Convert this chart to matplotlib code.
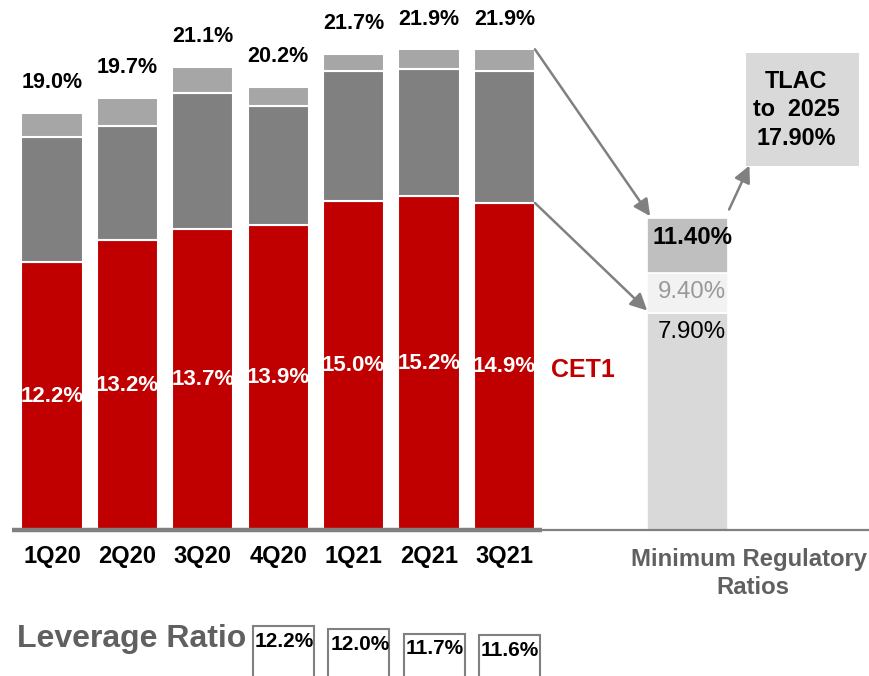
"""Capital ratios by quarter vs. minimum regulatory ratios (stacked bars)."""

import matplotlib

matplotlib.use("Agg")
import matplotlib.pyplot as plt
from matplotlib.patches import Rectangle

plt.rcParams["font.family"] = ["Liberation Sans", "DejaVu Sans"]

# --- data ---------------------------------------------------------------------
quarters = ["1Q20", "2Q20", "3Q20", "4Q20", "1Q21", "2Q21", "3Q21"]
cet1 = [12.2, 13.2, 13.7, 13.9, 15.0, 15.2, 14.9]
tier1 = [17.9, 18.4, 19.9, 19.3, 20.9, 21.0, 20.9]
total_capital = [19.0, 19.7, 21.1, 20.2, 21.7, 21.9, 21.9]

leverage_quarters = ["4Q20", "1Q21", "2Q21", "3Q21"]
leverage = [12.2, 12.0, 11.7, 11.6]

# minimum regulatory bar: labels, and segment heights as drawn (not to scale)
reg_labels = ["7.90%", "9.40%", "11.40%"]
reg_drawn = [9.9, 1.8, 2.5]
tlac_text = "TLAC\nto  2025\n17.90%"

RED = "#c00000"
DARK = "#808080"
LIGHT = "#a6a6a6"
TEXT_GRAY = "#606060"

PX_X = 75.4   # pixels per bar slot
PX_Y = 21.95  # pixels per percentage point

fig = plt.figure(figsize=(8.7, 6.76), dpi=100)
ax = fig.add_axes([0, 0, 1, 1])
ax.set_xlim(-52 / PX_X, (870 - 52) / PX_X)
ax.set_ylim(-(676 - 530) / PX_Y, 530 / PX_Y)
ax.axis("off")

x = list(range(len(quarters)))
w = 0.81
t1_part = [t - c for t, c in zip(tier1, cet1)]
t2_part = [tc - t for tc, t in zip(total_capital, tier1)]
ax.bar(x, cet1, w, color=RED, edgecolor="white", lw=1.5)
ax.bar(x, t1_part, w, bottom=cet1, color=DARK, edgecolor="white", lw=1.5)
ax.bar(x, t2_part, w, bottom=tier1, color=LIGHT, edgecolor="white", lw=1.5)

for i in x:
    ax.text(i, total_capital[i] + 30 / PX_Y, f"{total_capital[i]:.1f}%",
            ha="center", va="center", fontsize=15.5, fontweight="bold")
    ax.text(i, cet1[i] / 2, f"{cet1[i]:.1f}%", ha="center", va="center",
            fontsize=16, fontweight="bold", color="white")
    ax.text(i, -27 / PX_Y, quarters[i], ha="center", va="center",
            fontsize=17, fontweight="bold")

ax.text(6.62, 160 / PX_Y, "CET1", ha="left", va="center",
        fontsize=18, fontweight="bold", color=RED)

# baseline
ax.plot([-0.53, 6.5], [0, 0], color=DARK, lw=3.2, solid_capstyle="butt", zorder=3)
ax.plot([6.5, 10.85], [0, 0], color=DARK, lw=1.6, zorder=3)

# minimum regulatory ratios bar
rx, rw = 8.43, 1.074
reg_colors = ["#d9d9d9", "#f2f2f2", "#bfbfbf"]
reg_text_colors = ["black", "#999999", "black"]
reg_weights = ["normal", "normal", "bold"]
bottom = 0
tops = []
for h, col, lab, tc, fw in zip(reg_drawn, reg_colors, reg_labels,
                               reg_text_colors, reg_weights):
    ax.bar(rx, h, rw, bottom=bottom, color=col, edgecolor="white", lw=1.2)
    tops.append(bottom + h)
    ax.text(rx + 0.06, bottom + h - 19 / PX_Y, lab, ha="center", va="center",
            fontsize=17.3, fontweight=fw, color=tc)
    bottom += h

ax.text(rx + 0.82, -36 / PX_Y, "Minimum Regulatory", ha="center", va="baseline",
        fontsize=17.2, fontweight="bold", color=TEXT_GRAY)
ax.text(rx + 0.86, -64 / PX_Y, "Ratios", ha="center", va="baseline",
        fontsize=17.2, fontweight="bold", color=TEXT_GRAY)

# TLAC box
ax.add_patch(Rectangle((9.204, 16.58), 1.5, 5.15, facecolor="#d9d9d9",
                       edgecolor="none"))
ax.text(9.87, 19.15, tlac_text, ha="center", va="center", fontsize=16.8,
        fontweight="bold", linespacing=1.3)

arrow = dict(arrowstyle="-|>,head_length=0.5,head_width=0.25", color=DARK,
             lw=1.8, mutation_scale=20, shrinkA=0, shrinkB=0)
bar_right = x[-1] + w / 2
reg_left = rx - rw / 2
ax.annotate("", xy=(reg_left + 0.04, tops[2] + 0.1), xytext=(bar_right, total_capital[-1]),
            arrowprops=arrow)
ax.annotate("", xy=(reg_left, tops[0] + 0.1), xytext=(bar_right, cet1[-1]),
            arrowprops=arrow)
ax.annotate("", xy=(9.25, 16.6), xytext=(rx + 0.55, tops[2] + 0.4),
            arrowprops=arrow)

# leverage ratio boxes
ax.text(-0.465, -5.32, "Leverage Ratio", ha="left", va="baseline",
        fontsize=23, fontweight="bold", color=TEXT_GRAY)
lev_x = [quarters.index(q) + 0.07 for q in leverage_quarters]
k = 15 / PX_Y
base = -(809 - 530) / PX_Y
lev_h = [v * k for v in leverage]
ax.bar(lev_x, lev_h, w, bottom=base, facecolor="white", edgecolor=DARK, lw=1.5)
for xi, h, v in zip(lev_x, lev_h, leverage):
    ax.text(xi - w / 2 + 0.025, base + h - 21 / PX_Y, f"{v:.1f}%", ha="left",
            va="baseline", fontsize=15, fontweight="bold")

fig.savefig("out.png", dpi=100)
